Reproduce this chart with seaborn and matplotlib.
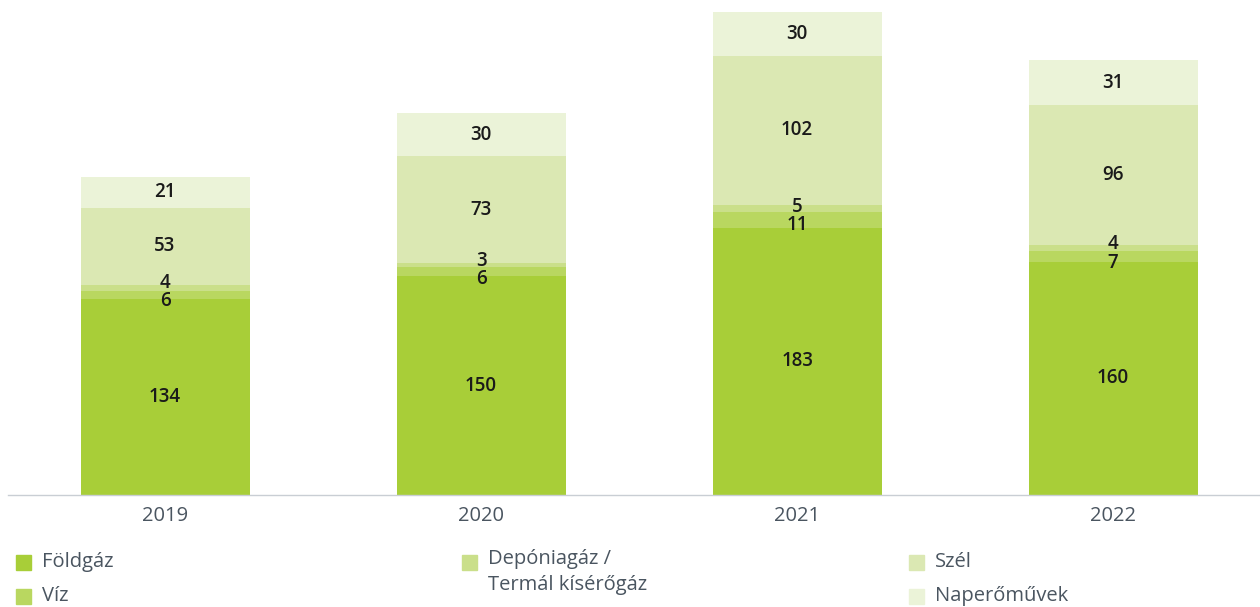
import numpy as np
import pandas as pd
import matplotlib.pyplot as plt
import seaborn as sns
from matplotlib.patches import Rectangle

# adatok
years = ["2019", "2020", "2021", "2022"]
foldgaz = [134, 150, 183, 160]
viz = [6, 6, 11, 7]
deponia = [4, 3, 5, 4]
szel = [53, 73, 102, 96]
napero = [21, 30, 30, 31]

series = ["Földgáz", "Víz", "Depóniagáz /\nTermál kísérőgáz", "Szél", "Naperőművek"]
colors = ["#a8ce38", "#b9d760", "#cadf8a", "#dbe8b3", "#ebf3d8"]

df = pd.DataFrame({"year": years, series[0]: foldgaz, series[1]: viz,
                   series[2]: deponia, series[3]: szel, series[4]: napero})
cum = df[series].cumsum(axis=1)

sns.set_style("white")
plt.rcParams["font.family"] = ["Open Sans", "DejaVu Sans"]

fig = plt.figure(figsize=(12.6, 6.07), dpi=100)
ax = fig.add_axes([8 / 1260, 1 - 495 / 607, 1252 / 1260, 495 / 607])

# stacked: draw cumulative totals from top down
for s, c in reversed(list(zip(series, colors))):
    sns.barplot(x=df["year"], y=cum[s], color=c, width=0.535, ax=ax,
                saturation=1, edgecolor="none", linewidth=0)

# value labels
lab = dict(ha="center", va="center", fontsize=13.5, fontweight="semibold",
           color="#1a1a1a")
for i in range(len(years)):
    for k in (0, 3, 4):
        s = series[k]
        v = df[s][i]
        ax.text(i, cum[s][i] - v / 2, str(v), **lab)
    # the two thin segments: spread their labels around their common middle
    mid = df[series[0]][i] + (df[series[1]][i] + df[series[2]][i]) / 2
    ax.annotate(str(df[series[1]][i]), (i, mid), xytext=(0, -6.5),
                textcoords="offset points", **lab)
    ax.annotate(str(df[series[2]][i]), (i, mid), xytext=(0, 6.5),
                textcoords="offset points", **lab)

ax.set_xlim(-0.497, 3.465)
ax.set_ylim(0, 331 * 495 / 483)
ax.set_xlabel("")
ax.set_ylabel("")
ax.set_yticks([])
ax.tick_params(axis="x", length=0, labelsize=14.5, labelcolor="#4a5560", pad=8)
sns.despine(ax=ax, left=True)
ax.spines["bottom"].set_color("#c9ced4")
ax.spines["bottom"].set_linewidth(1)

# legend, placed by hand
legend_items = [(16, 562, 0), (16, 596, 1), (462, 562, 2), (909, 562, 3), (909, 596, 4)]
for x, y, k in legend_items:
    fig.patches.append(Rectangle((x / 1260, 1 - (y + 7.5) / 607), 15 / 1260, 15 / 607,
                                 transform=fig.transFigure, color=colors[k], figure=fig))
    va = "top" if k == 2 else "center"
    yy = y - 13 if k == 2 else y
    fig.text((x + 26) / 1260, 1 - yy / 607, series[k], ha="left", va=va,
             fontsize=14.5, color="#4a5560", linespacing=1.4)

fig.savefig("out.png", dpi=100)
